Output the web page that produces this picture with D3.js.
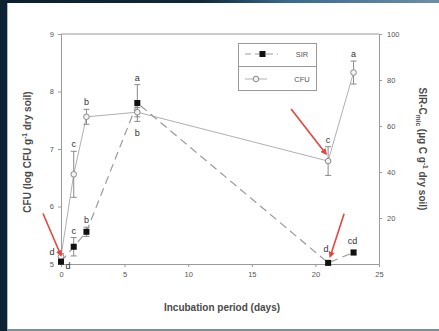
<!DOCTYPE html>
<html>
<head>
<meta charset="utf-8">
<script src="https://cdn.jsdelivr.net/npm/d3@7"></script>
<style>
  html, body { margin: 0; padding: 0; background: #0d2232; }
  svg { display: block; font-family: "Liberation Sans", Arial, sans-serif; }
</style>
</head>
<body>
<svg id="chart" width="439" height="331"></svg>
<script>
// Incubation days at which both measurements were taken
const days = [0, 1, 2, 6, 21, 23];

// SIR-Cmic (µg C g-1 dry soil), right axis
const sirValues = [1, 7.5, 14, 70, 0.5, 5];
const sirErrors = [1, 4, 2, 8, 1, 1];
const sirLetters = ["d", "c", "b", "a", "d", "cd"];

// CFU (log CFU g-1 dry soil), left axis
const cfuValues = [5.13, 6.56, 7.56, 7.64, 6.79, 8.33];
const cfuErrors = [0.05, 0.4, 0.13, 0.08, 0.25, 0.2];
const cfuLetters = ["d", "c", "b", "b", "c", "a"];

// Axis ticks
const xTicks = [0, 5, 10, 15, 20, 25];
const leftTicks = [5, 6, 7, 8, 9];
const rightTicks = [20, 40, 60, 80, 100];

const svg = d3.select("#chart");
const W = 439, H = 331;

// Slide-style frame around the figure
const defs = svg.append("defs");
const grad = defs.append("linearGradient").attr("id", "topband");
grad.append("stop").attr("offset", "0%").attr("stop-color", "#0c1f2e");
grad.append("stop").attr("offset", "45%").attr("stop-color", "#10283a");
grad.append("stop").attr("offset", "65%").attr("stop-color", "#3a6a8c");
grad.append("stop").attr("offset", "100%").attr("stop-color", "#6f8fa6");
svg.append("rect").attr("width", W).attr("height", H).attr("fill", "#0d2232");
svg.append("rect").attr("x", 7).attr("y", 0).attr("width", W - 7).attr("height", 3).attr("fill", "url(#topband)");
svg.append("rect").attr("x", 7).attr("y", 3).attr("width", W - 7).attr("height", 326).attr("fill", "#ffffff");
svg.append("line").attr("x1", 7.5).attr("x2", 7.5).attr("y1", 3).attr("y2", 329).attr("stroke", "#a9bccb");
svg.append("rect").attr("x", 7).attr("y", 329).attr("width", W - 7).attr("height", 2).attr("fill", "#7b8d99");

// Scales
const x = d3.scaleLinear().domain([0, 25]).range([61, 379]);
const yL = d3.scaleLinear().domain([5, 9]).range([264, 34]);
const yR = d3.scaleLinear().domain([0, 100]).range([264, 34]);

const axisColor = "#9a9a9a";
const textColor = "#555";

function styleAxis(g) {
  g.selectAll("path, line").attr("stroke", axisColor);
  g.selectAll("text").attr("fill", textColor).attr("font-size", 7.5);
}

svg.append("g").attr("transform", "translate(0,264)")
  .call(d3.axisBottom(x).tickValues(xTicks).tickSizeInner(3).tickSizeOuter(0).tickPadding(5))
  .call(styleAxis);
svg.append("g").attr("transform", "translate(61,0)")
  .call(d3.axisLeft(yL).tickValues(leftTicks).tickSizeInner(3).tickSizeOuter(0).tickPadding(4).tickFormat(d3.format("d")))
  .call(styleAxis);
svg.append("g").attr("transform", "translate(379,0)")
  .call(d3.axisRight(yR).tickValues(rightTicks).tickSizeInner(3).tickSizeOuter(0).tickPadding(5))
  .call(styleAxis);
// top frame line
svg.append("line").attr("x1", x(0)).attr("x2", x(25)).attr("y1", yL(9)).attr("y2", yL(9))
  .attr("stroke", axisColor);

// Axis titles
svg.append("text").attr("x", 222).attr("y", 311).attr("text-anchor", "middle")
  .attr("font-size", 10).attr("font-weight", "bold").attr("fill", "#4a4a4a")
  .text("Incubation period (days)");

const lt = svg.append("text").attr("transform", "translate(31,152) rotate(-90)")
  .attr("text-anchor", "middle").attr("font-size", 10).attr("font-weight", "bold").attr("fill", "#4a4a4a");
lt.append("tspan").text("CFU (log CFU g");
lt.append("tspan").attr("font-size", 6.5).attr("dy", -4).text("-1");
lt.append("tspan").attr("dy", 4).text(" dry soil)");

const rt = svg.append("text").attr("transform", "translate(419,149) rotate(90)")
  .attr("text-anchor", "middle").attr("font-size", 10).attr("font-weight", "bold").attr("fill", "#4a4a4a");
rt.append("tspan").text("SIR-C");
rt.append("tspan").attr("font-size", 6.5).attr("dy", 3).text("mic");
rt.append("tspan").attr("dy", -3).text(" (µg C g");
rt.append("tspan").attr("font-size", 6.5).attr("dy", -4).text("-1");
rt.append("tspan").attr("dy", 4).text(" dry soil)");

// Series records
const cfu = days.map((d, i) => ({ day: d, v: cfuValues[i], e: cfuErrors[i], l: cfuLetters[i] }));
const sir = days.map((d, i) => ({ day: d, v: sirValues[i], e: sirErrors[i], l: sirLetters[i] }));

// CFU: solid grey line with open circles
svg.append("path").datum(cfu)
  .attr("d", d3.line().x(d => x(d.day)).y(d => yL(d.v)))
  .attr("fill", "none").attr("stroke", "#b0b0b0").attr("stroke-width", 1);

// SIR: dashed line with filled squares
svg.append("path").datum(sir)
  .attr("d", d3.line().x(d => x(d.day)).y(d => yR(d.v)))
  .attr("fill", "none").attr("stroke", "#9a9a9a").attr("stroke-width", 1.2)
  .attr("stroke-dasharray", "8,5");

function errorBars(data, y, color) {
  const g = svg.append("g").attr("stroke", color).attr("stroke-width", 1);
  data.forEach(d => {
    const cx = x(d.day), y0 = y(d.v - d.e), y1 = y(d.v + d.e);
    g.append("line").attr("x1", cx).attr("x2", cx).attr("y1", y0).attr("y2", y1);
    g.append("line").attr("x1", cx - 3).attr("x2", cx + 3).attr("y1", y0).attr("y2", y0);
    g.append("line").attr("x1", cx - 3).attr("x2", cx + 3).attr("y1", y1).attr("y2", y1);
  });
}
errorBars(cfu, yL, "#8a8a8a");
errorBars(sir, yR, "#8a8a8a");

svg.append("g").selectAll("circle").data(cfu).join("circle")
  .attr("cx", d => x(d.day)).attr("cy", d => yL(d.v)).attr("r", 2.8)
  .attr("fill", "#f4f4f4").attr("stroke", "#888").attr("stroke-width", 1);

svg.append("g").selectAll("rect").data(sir).join("rect")
  .attr("x", d => x(d.day) - 3).attr("y", d => yR(d.v) - 3).attr("width", 6).attr("height", 6)
  .attr("fill", "#111");

// Significance letters, placed beside, above or below each point's error bar
// place entries: [dx, mode, dy]
const letterFont = 9;
function letters(data, y, place) {
  svg.append("g").selectAll("text").data(data).join("text")
    .attr("font-size", letterFont).attr("fill", "#333").attr("text-anchor", "middle")
    .attr("x", (d, i) => x(d.day) + place[i][0])
    .attr("y", (d, i) => {
      const p = place[i];
      if (p[1] === "above") return y(d.v + d.e) - 4 + p[2];
      if (p[1] === "below") return y(d.v - d.e) + 10 + p[2];
      return y(d.v) + 3 + p[2];
    })
    .text(d => d.l);
}
letters(cfu, yL, [[-9, "side", -5], [0, "above", 0], [0, "above", 0], [0, "below", 9], [0, "above", 0], [0, "above", 0]]);
letters(sir, yR, [[7, "side", 4], [0, "above", 0], [0, "above", 0], [0, "above", 0], [-2, "above", -5], [-1, "above", -2]]);

// Legend
const lg = svg.append("g");
lg.append("rect").attr("x", 238.5).attr("y", 43.5).attr("width", 78).attr("height", 47)
  .attr("fill", "#fff").attr("stroke", "#9a9a9a");
lg.append("line").attr("x1", 238.5).attr("x2", 316.5).attr("y1", 66.5).attr("y2", 66.5).attr("stroke", "#9a9a9a");
lg.append("line").attr("x1", 245).attr("x2", 278).attr("y1", 54).attr("y2", 54)
  .attr("stroke", "#9a9a9a").attr("stroke-dasharray", "7,4").attr("stroke-dashoffset", 1);
lg.append("rect").attr("x", 259.5).attr("y", 51).attr("width", 6).attr("height", 6).attr("fill", "#111");
lg.append("line").attr("x1", 245).attr("x2", 267).attr("y1", 79).attr("y2", 79).attr("stroke", "#b0b0b0");
lg.append("circle").attr("cx", 256).attr("cy", 79).attr("r", 2.8).attr("fill", "#f4f4f4").attr("stroke", "#888");
lg.append("text").attr("x", 302).attr("y", 56.5).attr("text-anchor", "middle").attr("font-size", 7.5)
  .attr("fill", textColor).text("SIR");
lg.append("text").attr("x", 302).attr("y", 81.5).attr("text-anchor", "middle").attr("font-size", 7.5)
  .attr("fill", textColor).text("CFU");

// Red arrows highlighting the key time points
const arrows = [
  { series: "cfu", index: 0, tail: [-18, -43], tip: [0, -1] },
  { series: "cfu", index: 4, tail: [-37, -52], tip: [-2, -7] },
  { series: "sir", index: 4, tail: [16, -49], tip: [2, -6] }
];
defs.append("marker").attr("id", "arrowhead").attr("viewBox", "0 0 10 10")
  .attr("refX", 8).attr("refY", 5).attr("markerWidth", 4).attr("markerHeight", 4)
  .attr("orient", "auto")
  .append("path").attr("d", "M0,0 L10,5 L0,10 z").attr("fill", "#e4453d");
arrows.forEach(a => {
  const d = a.series === "cfu" ? cfu[a.index] : sir[a.index];
  const px = x(d.day), py = a.series === "cfu" ? yL(d.v) : yR(d.v);
  svg.append("line")
    .attr("x1", px + a.tail[0]).attr("y1", py + a.tail[1])
    .attr("x2", px + a.tip[0]).attr("y2", py + a.tip[1])
    .attr("stroke", "#e4453d").attr("stroke-width", 1.6)
    .attr("marker-end", "url(#arrowhead)");
});
</script>
</body>
</html>
